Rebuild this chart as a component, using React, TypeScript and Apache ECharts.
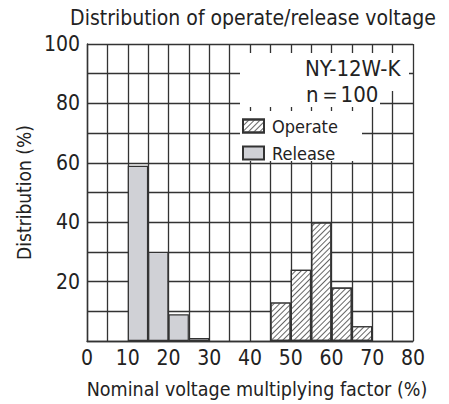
import React, { useEffect, useRef } from "react";
import * as echarts from "echarts";

const titleText = "Distribution of operate/release voltage";
const xName = "Nominal voltage multiplying factor (%)";
const yName = "Distribution (%)";
const modelText = "NY-12W-K";
const sampleText = "n＝100";

const xTicks = [0, 10, 20, 30, 40, 50, 60, 70, 80];
const yTicks = [20, 40, 60, 80, 100];

const binEdges = [0, 5, 10, 15, 20, 25, 30, 35, 40, 45, 50, 55, 60, 65, 70, 75, 80];

const releaseBins = ["10-15", "15-20", "20-25", "25-30"];
const releaseValues = [59, 30, 9, 1];

const operateBins = ["45-50", "50-55", "55-60", "60-65", "65-70"];
const operateValues = [13, 24, 40, 18, 5];

const FONT = "'DejaVu Sans Condensed', 'Liberation Sans Narrow', 'Noto Sans', sans-serif";
const INK = "#333";

export default function App() {
  const ref = useRef<HTMLDivElement>(null);
  useEffect(() => {
    if (!ref.current) return;
    const chart = echarts.init(ref.current, undefined, { renderer: "svg" });
    const categories = binEdges.slice(0, -1).map((e, i) => `${e}-${binEdges[i + 1]}`);
    const fill = (bins: string[], vals: number[]) =>
      categories.map((c) => {
        const k = bins.indexOf(c);
        return k >= 0 ? vals[k] : null;
      });

    chart.setOption({
      animation: false,
      backgroundColor: "#fff",
      textStyle: { fontFamily: FONT },
      grid: { left: 87, right: 36, top: 44, bottom: 58, containLabel: false },
      xAxis: [
        {
          type: "value",
          min: 0,
          max: 80,
          interval: 5,
          axisLine: { show: true, lineStyle: { color: INK, width: 1.4 } },
          axisTick: { show: false },
          splitLine: { show: true, lineStyle: { color: INK, width: 1.3 } },
          axisLabel: {
            margin: 6,
            color: "#222",
            fontSize: 21,
            fontFamily: FONT,
            formatter: (v: number) => (xTicks.includes(v) ? String(v) : ""),
          },
          name: xName,
          nameLocation: "middle",
          nameGap: 38,
          nameTextStyle: { color: "#222", fontSize: 19.5, fontFamily: FONT, padding: [0, 0, 0, 14] },
        },
        {
          type: "category",
          data: categories,
          show: false,
          boundaryGap: true,
        },
      ],
      yAxis: {
        type: "value",
        min: 0,
        max: 100,
        interval: 10,
        axisLine: { show: true, lineStyle: { color: INK, width: 1.4 } },
        axisTick: { show: false },
        splitLine: { show: true, lineStyle: { color: INK, width: 1.3 } },
        axisLabel: {
          margin: 7,
          color: "#222",
          fontSize: 21,
          fontFamily: FONT,
          formatter: (v: number) => (yTicks.includes(v) ? String(v) : ""),
        },
        name: yName,
        nameLocation: "middle",
        nameGap: 44,
        nameTextStyle: { color: "#222", fontSize: 19, fontFamily: FONT },
      },
      legend: {
        orient: "vertical",
        left: 242,
        top: 117,
        icon: "rect",
        itemWidth: 21,
        itemHeight: 13,
        itemGap: 9,
        padding: 0,
        textStyle: { fontSize: 18, color: "#222", fontFamily: FONT, padding: [0, 0, 0, 3] },
        data: ["Operate", "Release"],
      },
      graphic: [
        {
          type: "rect",
          z: 3,
          shape: { x: 240, y: 53, width: 169, height: 38 },
          style: { fill: "#fff" },
        },
        {
          type: "rect",
          z: 3,
          shape: { x: 240, y: 90, width: 140, height: 17 },
          style: { fill: "#fff" },
        },
        {
          type: "rect",
          z: 3,
          shape: { x: 240, y: 111, width: 122, height: 50 },
          style: { fill: "#fff" },
        },
        {
          type: "text",
          z: 5,
          x: 305,
          y: 57,
          style: { text: modelText, font: `22px ${FONT}`, fill: "#222", textAlign: "left", textVerticalAlign: "top" },
        },
        {
          type: "text",
          z: 5,
          x: 306,
          y: 83,
          style: { text: sampleText, font: `22px ${FONT}`, fill: "#222", textAlign: "left", textVerticalAlign: "top" },
        },
        {
          type: "text",
          z: 5,
          x: 253,
          y: 7,
          style: { text: titleText, font: `21px ${FONT}`, fill: "#222", textAlign: "center", textVerticalAlign: "top" },
        },
      ],
      series: [
        {
          name: "Operate",
          type: "bar",
          xAxisIndex: 1,
          barWidth: "100%",
          barGap: "-100%",
          data: fill(operateBins, operateValues),
          itemStyle: {
            color: "#fff",
            borderColor: INK,
            borderWidth: 1.2,
            decal: {
              symbol: "rect",
              symbolSize: 1,
              color: "#666",
              dashArrayX: [1, 0],
              dashArrayY: [1, 3],
              rotation: -Math.PI / 4,
            },
          },
        },
        {
          name: "Release",
          type: "bar",
          xAxisIndex: 1,
          barWidth: "100%",
          barGap: "-100%",
          data: fill(releaseBins, releaseValues),
          itemStyle: { color: "#d0d1d6", borderColor: INK, borderWidth: 1.2 },
        },
      ],
    });
    return () => chart.dispose();
  }, []);
  return <div ref={ref} style={{ position: "fixed", left: 0, top: 0, width: 449, height: 404 }} />;
}
